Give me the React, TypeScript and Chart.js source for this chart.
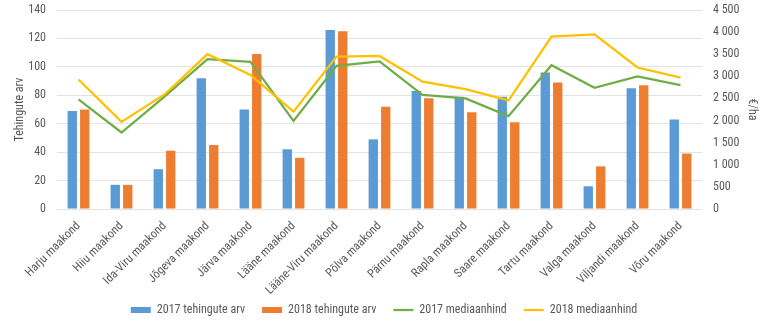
import React, { useEffect, useRef } from "react";
import { Chart, registerables } from "chart.js";

Chart.register(...registerables);

const categories = [
  "Harju maakond", "Hiiu maakond", "Ida-Viru maakond", "Jõgeva maakond", "Järva maakond",
  "Lääne maakond", "Lääne-Viru maakond", "Põlva maakond", "Pärnu maakond", "Rapla maakond",
  "Saare maakond", "Tartu maakond", "Valga maakond", "Viljandi maakond", "Võru maakond",
];
const deals2017 = [69, 17, 28, 92, 70, 42, 126, 49, 83, 79, 79, 96, 16, 85, 63];
const deals2018 = [70, 17, 41, 45, 109, 36, 125, 72, 78, 68, 61, 89, 30, 87, 39];
const median2017 = [2480, 1730, 2540, 3390, 3325, 1990, 3235, 3340, 2580, 2500, 2100, 3250, 2740, 3000, 2800];
const median2018 = [2930, 1970, 2590, 3500, 3030, 2200, 3445, 3460, 2880, 2710, 2455, 3900, 3950, 3200, 2970];

const leftTicks = { min: 0, max: 140, step: 20 };
const rightTicks = { min: 0, max: 4500, step: 500 };

const FONT = "'Liberation Sans Narrow', 'Roboto Condensed', Roboto";
const TXT = "#595959";

const noClipX = {
  id: "noClipX",
  beforeDraw(chart: any) {
    const x = chart.scales.x;
    if (x) x._computeLabelArea = () => undefined;
  },
};

export default function App() {
  const ref = useRef<HTMLCanvasElement | null>(null);
  useEffect(() => {
    if (!ref.current) return;
    const chart = new Chart(ref.current, {
      data: {
        labels: categories,
        datasets: [
          { type: "bar", label: "2017 tehingute arv", data: deals2017, backgroundColor: "#5B9BD5", yAxisID: "y", order: 2, pointStyle: "rect", borderWidth: 0 },
          { type: "bar", label: "2018 tehingute arv", data: deals2018, backgroundColor: "#ED7D31", yAxisID: "y", order: 2, pointStyle: "rect", borderWidth: 0 },
          { type: "line", label: "2017 mediaanhind", data: median2017, borderColor: "#70AD47", backgroundColor: "#70AD47", borderWidth: 2.25, pointRadius: 0, tension: 0, yAxisID: "y1", order: 1, pointStyle: "line" },
          { type: "line", label: "2018 mediaanhind", data: median2018, borderColor: "#FFC000", backgroundColor: "#FFC000", borderWidth: 2.25, pointRadius: 0, tension: 0, yAxisID: "y1", order: 0, pointStyle: "line" },
        ] as any,
      },
      plugins: [noClipX],
      options: {
        animation: false,
        responsive: false,
        maintainAspectRatio: false,
        layout: { padding: { left: 0, right: 0, top: 10, bottom: -2 } },
        datasets: { bar: { categoryPercentage: 0.58, barPercentage: 0.75 } } as any,
        plugins: {
          legend: {
            position: "bottom",
            labels: {
              usePointStyle: true,
              pointStyleWidth: 20,
              boxHeight: 6,
              padding: 17,
              color: TXT,
              font: { family: FONT, size: 12 },
              sort: (a: any, b: any) => a.datasetIndex - b.datasetIndex,
            },
          },
          tooltip: { enabled: false },
        },
        scales: {
          x: {
            grid: { display: false },
            border: { display: false },
            ticks: { color: TXT, font: { family: FONT, size: 12 }, maxRotation: 45, minRotation: 45, autoSkip: false, padding: 2 },
            afterFit: (s: any) => { s.height = 78; },
          },
          y: {
            position: "left",
            min: leftTicks.min,
            max: leftTicks.max,
            ticks: { stepSize: leftTicks.step, color: TXT, font: { family: FONT, size: 12 }, padding: 11 },
            grid: { color: "#e3e3e3", drawTicks: false },
            border: { display: false },
            title: { display: true, text: "Tehingute arv", color: TXT, font: { family: FONT, size: 12 }, padding: { top: 13, bottom: 0 } },
            afterFit: (s: any) => { s.width = 57; s.paddingTop = 3; s.paddingBottom = 3; },
          },
          y1: {
            position: "right",
            min: rightTicks.min,
            max: rightTicks.max,
            ticks: {
              stepSize: rightTicks.step,
              color: TXT,
              font: { family: FONT, size: 12 },
              padding: 11,
              callback: (v: any) => String(v).replace(/\B(?=(\d{3})+(?!\d))/g, " "),
            },
            grid: { display: false, drawTicks: false },
            border: { display: false },
            title: { display: true, text: "€/ha", color: TXT, font: { family: FONT, size: 12 }, padding: { top: 9, bottom: 0 } },
            afterFit: (s: any) => { s.width = 66; s.paddingTop = 3; s.paddingBottom = 3; },
          },
        },
      } as any,
    });
    return () => chart.destroy();
  }, []);
  return (
    <div style={{ position: "fixed", left: 0, top: 0, width: 768, height: 324, background: "#fff" }}>
      <canvas ref={ref} width={768} height={324} style={{ width: 768, height: 324 }} />
    </div>
  );
}
